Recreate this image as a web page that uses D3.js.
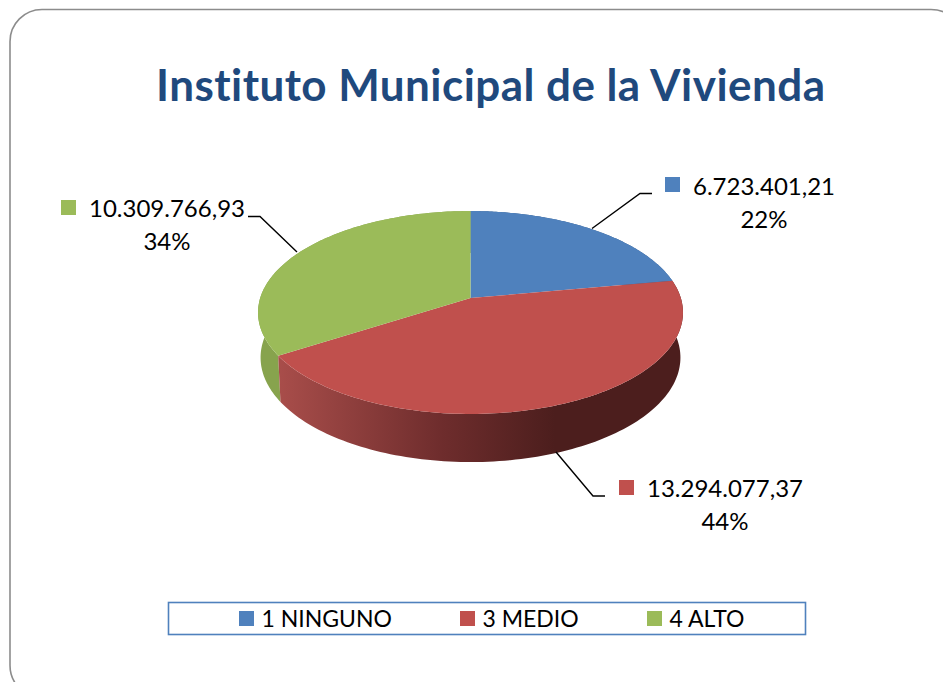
<!DOCTYPE html>
<html><head><meta charset="utf-8">
<script src="https://cdn.jsdelivr.net/npm/d3@7"></script>
<style>html,body{margin:0;padding:0;background:#fff;overflow:hidden}svg{display:block}text{font-family:Lato,"Open Sans",sans-serif;font-variant-ligatures:none}</style>
</head><body><svg id="c" width="943" height="682"></svg>
<script>
const categories = ["1 NINGUNO","3 MEDIO","4 ALTO"];
const values = [6723401.21,13294077.37,10309766.93];
const valueLabels = ["6.723.401,21","13.294.077,37","10.309.766,93"];
const percentLabels = ["22%","44%","34%"];
const colors = ["#4f81bd","#c0504d","#9bbb59"];
const titleText = "Instituto Municipal de la Vivienda";

const svg = d3.select("#c");
const defs = svg.append("defs");
svg.append("rect").attr("x",10).attr("y",9.5).attr("width",953).attr("height",688).attr("rx",32)
  .attr("fill","#fff").attr("stroke","#8c8c8c").attr("stroke-width",1.6);

svg.append("text").attr("x",490.5).attr("y",101).attr("text-anchor","middle")
  .attr("font-size",44).attr("font-weight",700).attr("fill","#1f497d")
  .attr("textLength",669).attr("lengthAdjust","spacing").text(titleText);

// Perspective projection of the pie disc
const cx=470.5, topY=298, persp=-0.1429, ay=99.4, dx=210.3;
function project(t, sx, sy, oy, ox){
  const u=Math.sin(t), v=-Math.cos(t), w=1+persp*v;
  return [ox+sx*dx*u/w, oy+sy*ay*v/w];
}
const topPt = t=>project(t,1,1,topY,cx);
const botPt = t=>project(t,0.988,1.03,342.6,cx);
const pie = d3.pie().sort(null).value(d=>d)(values);
const line = d3.line();
const arcAngles=(a,b)=>d3.range(0,121).map(i=>a+(b-a)*i/120);

// side gradient
const redSide = d3.scaleLinear().domain([280,440,555]).range(["#a84d4a","#6f2d2d","#4c1e1d"]);
const grad = defs.append("linearGradient").attr("id","redSide").attr("gradientUnits","userSpaceOnUse")
  .attr("x1",280).attr("x2",555).attr("y1",0).attr("y2",0);
[280,440,555].forEach(x=>grad.append("stop").attr("offset",(x-280)/275).attr("stop-color",redSide(x)));
const sideFill=["#3a5f8c","url(#redSide)","#87a34d"];

const order=[0,2,1];
order.forEach(i=>{
  const p=pie[i], aa=arcAngles(p.startAngle,p.endAngle);
  const pts=aa.map(topPt).concat(aa.slice().reverse().map(botPt));
  svg.append("path").attr("d",line(pts)+"Z").attr("fill",sideFill[i]);
});
pie.forEach((p,i)=>{
  const pts=[[cx,topY]].concat(arcAngles(p.startAngle,p.endAngle).map(topPt));
  svg.append("path").attr("d",line(pts)+"Z").attr("fill",colors[i]);
});

// leader lines
const leaders=[
  {from:[592,228.5],mid:[640,193.5],to:[652,193.5]},
  {from:[556,452],mid:[593,496],to:[605,496]},
  {from:[297,252],mid:[260,216.5],to:[248,216.5]}
];
leaders.forEach(l=>svg.append("path").attr("d",line([l.from,l.mid,l.to])).attr("fill","none").attr("stroke","#000").attr("stroke-width",1.4));

// data labels
const labelPos=[
  {sq:[665,177],tx:764,ty:194.5,py:228},
  {sq:[619,480],tx:725,ty:496.5,py:529.5},
  {sq:[61,200],tx:167,ty:217,py:250}
];
labelPos.forEach((l,i)=>{
  svg.append("rect").attr("x",l.sq[0]).attr("y",l.sq[1]).attr("width",15).attr("height",15).attr("fill",colors[i]);
  svg.append("text").attr("x",l.tx).attr("y",l.ty).attr("text-anchor","middle").attr("font-size",24).attr("fill","#000").text(valueLabels[i]);
  svg.append("text").attr("x",l.tx).attr("y",l.py).attr("text-anchor","middle").attr("font-size",24).attr("fill","#000").text(percentLabels[i]);
});

// legend
svg.append("rect").attr("x",168.5).attr("y",602.5).attr("width",637).attr("height",32).attr("fill","#fff").attr("stroke","#4f81bd").attr("stroke-width",1.6);
const legendX=[239,460,647];
categories.forEach((c,i)=>{
  svg.append("rect").attr("x",legendX[i]).attr("y",611).attr("width",15).attr("height",15).attr("fill",colors[i]);
  svg.append("text").attr("x",legendX[i]+22.5).attr("y",627).attr("font-size",23).attr("fill","#000").text(c);
});
</script></body></html>
